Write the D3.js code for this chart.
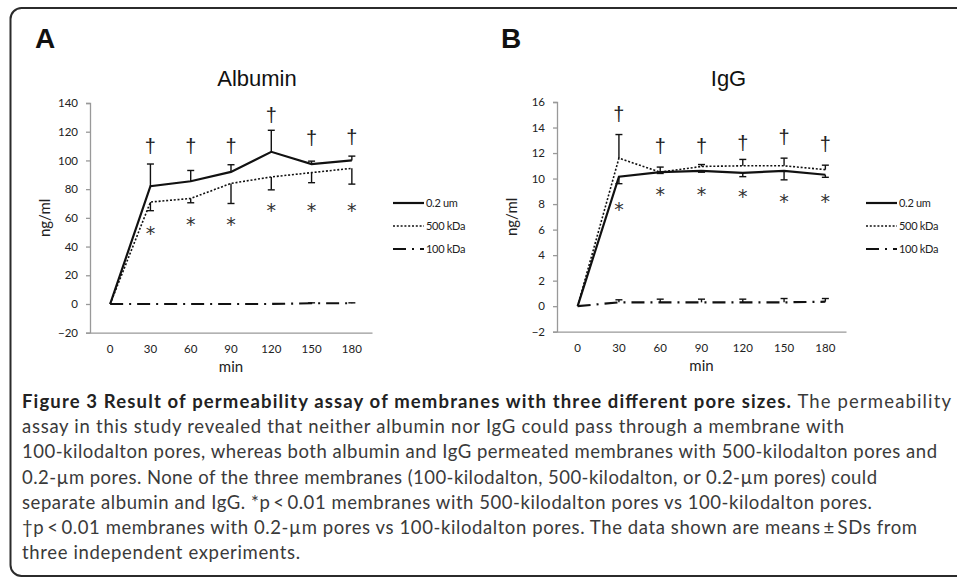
<!DOCTYPE html>
<html>
<head>
<meta charset="utf-8">
<script src="https://cdn.jsdelivr.net/npm/d3@7"></script>
<style>
  body { margin: 0; background: #fff; }
  svg { display: block; }
</style>
</head>
<body>
<div id="fig"></div>
<script>
// data
var minutes = ["0", "30", "60", "90", "120", "150", "180"];
var seriesNames = ["0.2 um", "500 kDa", "100 kDa"];

// Albumin (ng/ml)
var alb02 = [0, 82, 85.5, 92, 106, 97.5, 100];
var alb02Sd = [0, 15.5, 7.5, 5, 15, 2, 3];
var alb500 = [0, 71, 73.5, 84, 88.5, 91.5, 94.5];
var alb500Sd = [0, 6, 3, 14, 9, 7, 11];
var alb100 = [0, 0, 0, 0, 0, 0.5, 0.5];
var alb100Sd = [0, 0, 0, 0, 0, 0.3, 0.3];
var albDagger = [null, 110.5, 110.5, 110.5, 131.5, 115.5, 116.5];
var albStar = [null, 53, 59, 59, 69, 69, 69];
var albTicks = [-20, 0, 20, 40, 60, 80, 100, 120, 140];

// IgG (ng/ml)
var igg02 = [0, 10.15, 10.5, 10.6, 10.45, 10.6, 10.3];
var igg02Sd = [0, 0.55, 0.1, 0.1, 0.3, 0.7, 0.2];
var igg500 = [0, 11.6, 10.5, 10.95, 11.0, 11.0, 10.7];
var igg500Sd = [0, 1.85, 0.4, 0.15, 0.5, 0.6, 0.35];
var igg100 = [0, 0.3, 0.3, 0.3, 0.3, 0.3, 0.35];
var igg100Sd = [0, 0.2, 0.25, 0.25, 0.25, 0.3, 0.25];
var iggDagger = [null, 15.1, 12.6, 12.6, 12.8, 13.3, 12.7];
var iggStar = [null, 8.0, 9.15, 9.15, 9.0, 8.6, 8.6];
var iggTicks = [-2, 0, 2, 4, 6, 8, 10, 12, 14, 16];

var captionLines = [
  ["Figure 3 Result of permeability assay of membranes with three different pore sizes.", " The permeability"],
  ["", "assay in this study revealed that neither albumin nor IgG could pass through a membrane with"],
  ["", "100-kilodalton pores, whereas both albumin and IgG permeated membranes with 500-kilodalton pores and"],
  ["", "0.2-\u00b5m pores. None of the three membranes (100-kilodalton, 500-kilodalton, or 0.2-\u00b5m pores) could"],
  ["", "separate albumin and IgG. *p\u2009<\u20090.01 membranes with 500-kilodalton pores vs 100-kilodalton pores."],
  ["", "\u2020p\u2009<\u20090.01 membranes with 0.2-\u00b5m pores vs 100-kilodalton pores. The data shown are means\u2009\u00b1\u2009SDs from"],
  ["", "three independent experiments."]
];
var captionEnds = [951, 844, 937, 877, 872, 917, 300];


var svgWidth = 957;
var svgHeight = 579;

var svg = d3.select("#fig")
  .append("svg")
  .attr("width", svgWidth)
  .attr("height", svgHeight);

// rounded frame around the figure
svg.append("rect")
  .attr("x", 10.5)
  .attr("y", 8)
  .attr("width", 980)
  .attr("height", 568)
  .attr("rx", 11)
  .attr("fill", "none")
  .attr("stroke", "#2b2b2b")
  .attr("stroke-width", 2);

var lineStyles = [
  { dash: null, width: 2.2 },
  { dash: "2,1.8", width: 1.6 },
  { dash: "13,6,2,6", width: 2.2 }
];

var chartFont = "Lato, Open Sans, sans-serif";


function drawPanel(p) {
  var g = svg.append("g");

  var x = d3.scaleBand()
    .domain(minutes)
    .range([p.left, p.right]);

  var y = d3.scaleLinear()
    .domain([p.ticks[0], p.ticks[p.ticks.length - 1]])
    .range([p.bottom, p.top]);

  var cx = function(i) { return x(minutes[i]) + x.bandwidth() / 2; };

  // panel letter and title
  g.append("text")
    .attr("x", p.letterX)
    .attr("y", 48)
    .style("font-family", "Liberation Sans, Arial, sans-serif")
    .style("font-weight", "bold")
    .style("font-size", "28px")
    .attr("fill", "#111")
    .text(p.letter);

  g.append("text")
    .attr("x", (p.left + p.right) / 2 + p.titleShift)
    .attr("y", 86)
    .attr("text-anchor", "middle")
    .style("font-family", "Liberation Sans, Arial, sans-serif")
    .style("font-size", "22px")
    .attr("fill", "#111")
    .text(p.title);

  // axes
  var leftAxis = d3.axisLeft(y).tickValues(p.ticks).tickSize(4).tickPadding(8);
  var axisG = g.append("g")
    .attr("transform", "translate(" + p.left + ",0)")
    .call(leftAxis);
  axisG.select(".domain").attr("stroke", "#999").attr("stroke-width", 1.3);
  axisG.selectAll(".tick line").attr("stroke", "#999").attr("stroke-width", 1.3);
  axisG.selectAll(".tick text")
    .style("font-family", chartFont)
    .style("font-size", "11.5px")
    .attr("fill", "#222");

  var bottomAxis = d3.axisBottom(x).tickSize(0).tickPadding(12);
  var xAxisG = g.append("g")
    .attr("transform", "translate(0," + p.bottom + ")")
    .call(bottomAxis);
  xAxisG.select(".domain").attr("stroke", "#999").attr("stroke-width", 1.3);
  xAxisG.selectAll(".tick text")
    .style("font-family", chartFont)
    .style("font-size", "11.5px")
    .attr("fill", "#222");

  g.append("text")
    .attr("x", (p.left + p.right) / 2)
    .attr("y", p.bottom + 39)
    .attr("text-anchor", "middle")
    .style("font-family", chartFont)
    .style("font-size", "15px")
    .attr("fill", "#222")
    .text("min");

  g.append("text")
    .attr("transform", "translate(" + (p.left - 40) + "," + ((p.top + p.bottom) / 2) + ") rotate(-90)")
    .attr("text-anchor", "middle")
    .style("font-family", chartFont)
    .style("font-size", "15px")
    .attr("fill", "#222")
    .text("ng/ml");

  // error bars first, then lines
  p.series.forEach(function(s, k) {
    s.values.forEach(function(v, i) {
      var sd = s.sd[i];
      if (!sd) return;
      var end = v + s.dir * sd;
      g.append("line")
        .attr("x1", cx(i)).attr("x2", cx(i))
        .attr("y1", y(v)).attr("y2", y(end))
        .attr("stroke", "#111").attr("stroke-width", 1.4);
      g.append("line")
        .attr("x1", cx(i) - 3.5).attr("x2", cx(i) + 3.5)
        .attr("y1", y(end)).attr("y2", y(end))
        .attr("stroke", "#111").attr("stroke-width", 1.4);
    });
  });

  var line = d3.line()
    .x(function(d, i) { return cx(i); })
    .y(function(d) { return y(d); });

  p.series.forEach(function(s, k) {
    g.append("path")
      .datum(s.values)
      .attr("d", line)
      .attr("fill", "none")
      .attr("stroke", "#111")
      .attr("stroke-width", lineStyles[k].width)
      .attr("stroke-dasharray", lineStyles[k].dash);
  });

  // significance marks
  p.daggers.forEach(function(v, i) {
    if (v === null) return;
    g.append("text")
      .attr("x", cx(i))
      .attr("y", y(v))
      .attr("dy", "0.36em")
      .attr("text-anchor", "middle")
      .style("font-family", "Liberation Sans, Arial, sans-serif")
      .style("font-size", "20px")
      .attr("fill", "#222")
      .text("\u2020");
  });
  p.stars.forEach(function(v, i) {
    if (v === null) return;
    g.append("text")
      .attr("x", cx(i))
      .attr("y", y(v))
      .attr("dy", "0.62em")
      .attr("text-anchor", "middle")
      .style("font-family", "DejaVu Sans, sans-serif")
      .style("font-size", "19px")
      .attr("fill", "#333")
      .text("*");
  });

  // legend
  seriesNames.forEach(function(name, k) {
    var ly = 203 + k * 23;
    g.append("line")
      .attr("x1", p.legendX).attr("x2", p.legendX + 31)
      .attr("y1", ly).attr("y2", ly)
      .attr("stroke", "#111")
      .attr("stroke-width", lineStyles[k].width)
      .attr("stroke-dasharray", lineStyles[k].dash);
    g.append("text")
      .attr("x", p.legendX + 33)
      .attr("y", ly)
      .attr("dy", "0.35em")
      .style("font-family", chartFont)
      .style("font-size", "11px")
      .style("letter-spacing", "-0.3px")
      .attr("fill", "#222")
      .text(name);
  });
}


drawPanel({
  letter: "A", letterX: 35, title: "Albumin", titleShift: 26,
  left: 90, right: 372, top: 103, bottom: 332.7,
  ticks: albTicks, legendX: 393,
  series: [
    { values: alb02, sd: alb02Sd, dir: 1 },
    { values: alb500, sd: alb500Sd, dir: -1 },
    { values: alb100, sd: alb100Sd, dir: 1 }
  ],
  daggers: albDagger, stars: albStar
});

drawPanel({
  letter: "B", letterX: 501, title: "IgG", titleShift: 27,
  left: 557, right: 846, top: 102, bottom: 331.7,
  ticks: iggTicks, legendX: 866,
  series: [
    { values: igg02, sd: igg02Sd, dir: -1 },
    { values: igg500, sd: igg500Sd, dir: 1 },
    { values: igg100, sd: igg100Sd, dir: 1 }
  ],
  daggers: iggDagger, stars: iggStar
});


// caption
var caption = svg.append("g");
captionLines.forEach(function(parts, i) {
  var t = caption.append("text")
    .attr("x", 22)
    .attr("y", 408 + i * 25.2)
    .attr("textLength", captionEnds[i] - 22)
    .attr("lengthAdjust", "spacing")
    .style("font-family", "Lato, Open Sans, sans-serif")
    .style("font-size", "18.5px")
    .attr("fill", "#3a3a3a");
  if (parts[0]) {
    t.append("tspan").style("font-weight", "bold").attr("fill", "#222").text(parts[0]);
  }
  t.append("tspan").text(parts[1]);
});
</script>
</body>
</html>
